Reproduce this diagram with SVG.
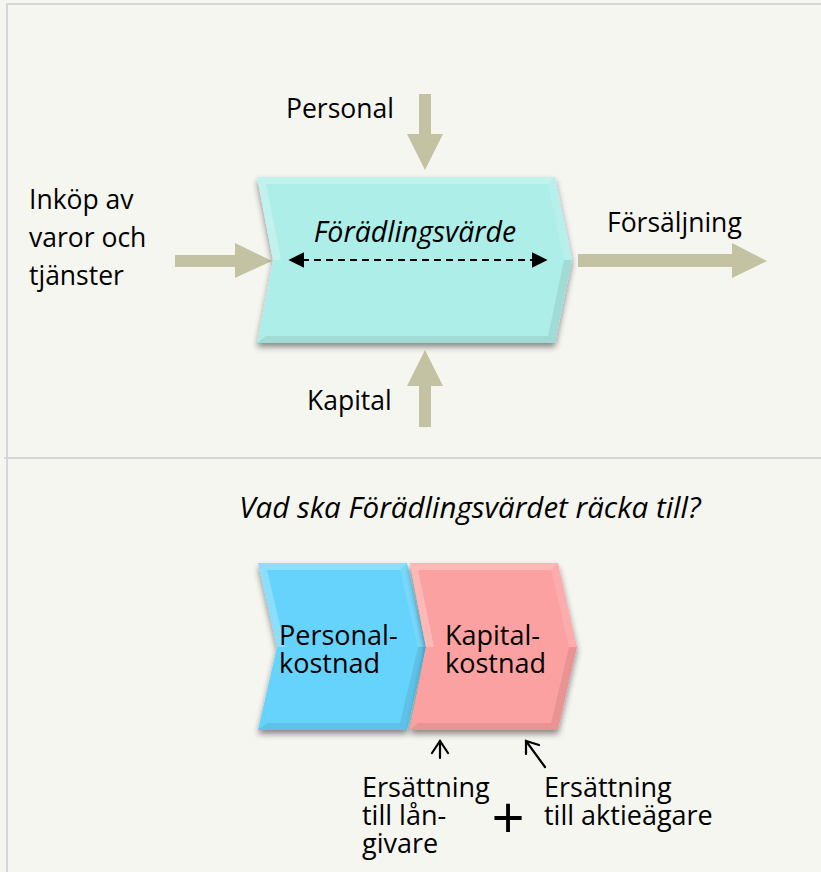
<svg xmlns="http://www.w3.org/2000/svg" width="821" height="872" viewBox="0 0 821 872">
<defs>
<style>
.lbl{font-family:"Open Sans","Noto Sans",sans-serif;font-size:26.5px;fill:#000}
.it{font-style:italic}
.big{font-size:27px}
.blk{fill:#c3c2a3}
.bev-l{fill:#ffffff;opacity:0.25}
.bev-d{fill:#000000;opacity:0.08}
.bev-m{fill:#ffffff;opacity:0.12}
</style>
<filter id="sh" x="-10%" y="-10%" width="120%" height="130%">
<feGaussianBlur in="SourceAlpha" stdDeviation="3"/>
<feOffset dx="0" dy="4" result="b"/>
<feComponentTransfer><feFuncA type="linear" slope="0.45"/></feComponentTransfer>
<feMerge><feMergeNode/><feMergeNode in="SourceGraphic"/></feMerge>
</filter>
<marker id="tri" viewBox="0 0 10 10" refX="9" refY="5" markerWidth="8" markerHeight="8" orient="auto-start-reverse" markerUnits="strokeWidth">
<path d="M0,0 L10,5 L0,10 Z" fill="#000"/>
</marker>
</defs>
<rect width="821" height="872" fill="#f6f6f1"/>
<g id="frame" fill="none" stroke="#d6d6da" stroke-width="2">
<path d="M7,872 V4 H821"/>
<path d="M4,458 H821"/>
</g>

<g id="connectors">
<polygon class="blk" points="175,255 235,255 235,243 272,261 235,278 235,267 175,267"/>
<polygon class="blk" points="578,254 732,254 732,243 767,261 732,278 732,267 578,267"/>
<polygon class="blk" points="419,94 431,94 431,134 443,134 425,170 407,134 419,134"/>
<polygon class="blk" points="419,427 431,427 431,386 443,386 425,350 407,386 419,386"/>
</g>

<g id="node-foradling">
<g filter="url(#sh)">
<polygon points="257,177 555,177 572,260 555,343 257,343 273,260" fill="#aeeee9"/>
</g>
<polygon class="bev-l" points="257,177 555,177 548,184 266,184"/>
<polygon class="bev-m" points="555,177 572,260 564,260 548,184"/>
<polygon class="bev-d" points="572,260 555,343 548,336 564,260"/>
<polygon class="bev-d" points="555,343 257,343 266,336 548,336"/>
<polygon class="bev-l" points="273,260 257,177 266,184 281,260"/>
<line x1="290" y1="260" x2="546" y2="260" stroke="#000" stroke-width="2" stroke-dasharray="7,5" marker-start="url(#tri)" marker-end="url(#tri)"/>
<text class="lbl it" x="415" y="242" text-anchor="middle" style="font-size:28.5px">Förädlingsvärde</text>
</g>

<g id="label-personal"><text class="lbl" x="286" y="118">Personal</text></g>
<g id="label-inkop">
<text class="lbl" x="29" y="209"><tspan x="29" y="209">Inköp av</tspan><tspan x="29" y="247">varor och</tspan><tspan x="29" y="285">tjänster</tspan></text>
</g>
<g id="label-kapital"><text class="lbl" x="307" y="410">Kapital</text></g>
<g id="label-forsaljning"><text class="lbl" x="607" y="232">Försäljning</text></g>

<g id="question"><text class="lbl it" x="470" y="518" text-anchor="middle" style="font-size:29.5px">Vad ska Förädlingsvärdet räcka till?</text></g>

<g id="node-personalkostnad">
<g filter="url(#sh)">
<polygon points="258,563 407,563 426,647 407,730 258,730 277,647" fill="#66d3fc"/>
</g>
<polygon class="bev-l" points="258,563 407,563 400,570 267,570"/>
<polygon class="bev-m" points="407,563 426,647 418,647 400,570"/>
<polygon class="bev-d" points="426,647 407,730 400,723 418,647"/>
<polygon class="bev-d" points="407,730 258,730 267,723 400,723"/>
<polygon class="bev-l" points="277,647 258,563 267,570 285,647"/>
<text class="lbl big" x="279" y="645"><tspan x="279" y="645">Personal-</tspan><tspan x="279" y="673">kostnad</tspan></text>
</g>

<g id="node-kapitalkostnad">
<g filter="url(#sh)">
<polygon points="410,563 558,563 577,647 558,730 410,730 426,647" fill="#fca1a1"/>
</g>
<polygon class="bev-l" points="410,563 558,563 551,570 418,570"/>
<polygon class="bev-m" points="558,563 577,647 569,647 551,570"/>
<polygon class="bev-d" points="577,647 558,730 551,723 569,647"/>
<polygon class="bev-d" points="558,730 410,730 418,723 551,723"/>
<polygon class="bev-l" points="426,647 410,563 418,570 434,647"/>
<text class="lbl big" x="445" y="645"><tspan x="445" y="645">Kapital-</tspan><tspan x="445" y="673">kostnad</tspan></text>
</g>

<g id="connectors-small" stroke="#000" stroke-width="2.2" fill="none" stroke-linecap="round" stroke-linejoin="miter">
<path d="M440,758 V741"/>
<path d="M432,753 L440,741 L448,753"/>
<path d="M545,767 L526,741"/>
<path d="M526,754 L526,741 L539,745"/>
</g>

<g id="label-langivare">
<text class="lbl big" x="362" y="797"><tspan x="362" y="797">Ersättning</tspan><tspan x="362" y="825">till lån-</tspan><tspan x="362" y="853">givare</tspan></text>
</g>
<g id="label-plus"><text class="lbl" x="508" y="839" text-anchor="middle" style="font-size:58px">+</text></g>
<g id="label-aktieagare">
<text class="lbl big" x="544" y="797"><tspan x="544" y="797">Ersättning</tspan><tspan x="544" y="825">till aktieägare</tspan></text>
</g>
</svg>
